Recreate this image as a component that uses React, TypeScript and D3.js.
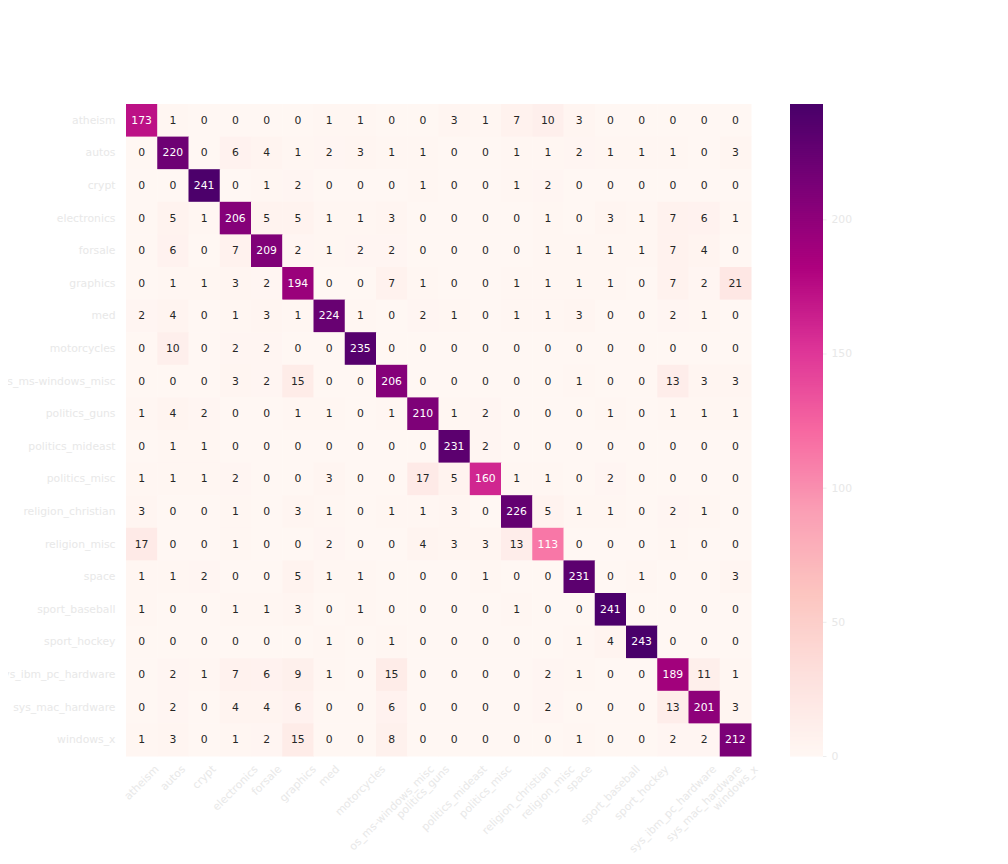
import React, { useEffect, useRef } from 'react';
import * as d3 from 'd3';

const labels = [
  'atheism', 'autos', 'crypt', 'electronics', 'forsale', 'graphics', 'med', 'motorcycles',
  'os_ms-windows_misc', 'politics_guns', 'politics_mideast', 'politics_misc',
  'religion_christian', 'religion_misc', 'space', 'sport_baseball', 'sport_hockey',
  'sys_ibm_pc_hardware', 'sys_mac_hardware', 'windows_x',
];

// rows = true label, columns = predicted label
const matrix: number[][] = [
  [173, 1, 0, 0, 0, 0, 1, 1, 0, 0, 3, 1, 7, 10, 3, 0, 0, 0, 0, 0],
  [0, 220, 0, 6, 4, 1, 2, 3, 1, 1, 0, 0, 1, 1, 2, 1, 1, 1, 0, 3],
  [0, 0, 241, 0, 1, 2, 0, 0, 0, 1, 0, 0, 1, 2, 0, 0, 0, 0, 0, 0],
  [0, 5, 1, 206, 5, 5, 1, 1, 3, 0, 0, 0, 0, 1, 0, 3, 1, 7, 6, 1],
  [0, 6, 0, 7, 209, 2, 1, 2, 2, 0, 0, 0, 0, 1, 1, 1, 1, 7, 4, 0],
  [0, 1, 1, 3, 2, 194, 0, 0, 7, 1, 0, 0, 1, 1, 1, 1, 0, 7, 2, 21],
  [2, 4, 0, 1, 3, 1, 224, 1, 0, 2, 1, 0, 1, 1, 3, 0, 0, 2, 1, 0],
  [0, 10, 0, 2, 2, 0, 0, 235, 0, 0, 0, 0, 0, 0, 0, 0, 0, 0, 0, 0],
  [0, 0, 0, 3, 2, 15, 0, 0, 206, 0, 0, 0, 0, 0, 1, 0, 0, 13, 3, 3],
  [1, 4, 2, 0, 0, 1, 1, 0, 1, 210, 1, 2, 0, 0, 0, 1, 0, 1, 1, 1],
  [0, 1, 1, 0, 0, 0, 0, 0, 0, 0, 231, 2, 0, 0, 0, 0, 0, 0, 0, 0],
  [1, 1, 1, 2, 0, 0, 3, 0, 0, 17, 5, 160, 1, 1, 0, 2, 0, 0, 0, 0],
  [3, 0, 0, 1, 0, 3, 1, 0, 1, 1, 3, 0, 226, 5, 1, 1, 0, 2, 1, 0],
  [17, 0, 0, 1, 0, 0, 2, 0, 0, 4, 3, 3, 13, 113, 0, 0, 0, 1, 0, 0],
  [1, 1, 2, 0, 0, 5, 1, 1, 0, 0, 0, 1, 0, 0, 231, 0, 1, 0, 0, 3],
  [1, 0, 0, 1, 1, 3, 0, 1, 0, 0, 0, 0, 1, 0, 0, 241, 0, 0, 0, 0],
  [0, 0, 0, 0, 0, 0, 1, 0, 1, 0, 0, 0, 0, 0, 1, 4, 243, 0, 0, 0],
  [0, 2, 1, 7, 6, 9, 1, 0, 15, 0, 0, 0, 0, 2, 1, 0, 0, 189, 11, 1],
  [0, 2, 0, 4, 4, 6, 0, 0, 6, 0, 0, 0, 0, 2, 0, 0, 0, 13, 201, 3],
  [1, 3, 0, 1, 2, 15, 0, 0, 8, 0, 0, 0, 0, 0, 1, 0, 0, 2, 2, 212],
];

const colorbarTicks = [0, 50, 100, 150, 200];

// ColorBrewer RdPu, linear like matplotlib
const rdpu = ['#fff7f3', '#fde0dd', '#fcc5c0', '#fa9fb5', '#f768a1', '#dd3497', '#ae017e', '#7a0177', '#49006a'];

const labelColor = '#e8e8e8';
const font = '"DejaVu Sans", sans-serif';
const fs = 10.8;

const App: React.FC = () => {
  const width = 1008;
  const height = 864;
  const heat = { left: 126, right: 751, top: 104, bottom: 756 };
  const bar = { left: 790, right: 823 };
  const svgRef = useRef<SVGSVGElement>(null);

  useEffect(() => {
    const svg = d3.select(svgRef.current);
    svg.selectAll('*').remove();

    const vmax = d3.max(matrix.flat()) ?? 1;
    const color = d3.scaleLinear<string>()
      .domain(rdpu.map((_, i) => (i / (rdpu.length - 1)) * vmax))
      .range(rdpu)
      .interpolate(d3.interpolateRgb);

    const x = d3.scaleBand<string>().domain(labels).range([heat.left, heat.right]);
    const y = d3.scaleBand<string>().domain(labels).range([heat.top, heat.bottom]);

    // same rule seaborn uses to pick the annotation colour
    const lum = (c: string) => {
      const rgb = d3.rgb(c);
      const lin = [rgb.r, rgb.g, rgb.b].map(v => {
        const s = v / 255;
        return s <= 0.03928 ? s / 12.92 : Math.pow((s + 0.055) / 1.055, 2.4);
      });
      return 0.2126 * lin[0] + 0.7152 * lin[1] + 0.0722 * lin[2];
    };

    const cells = matrix.flatMap((row, i) => row.map((v, j) => ({ r: labels[i], c: labels[j], v })));

    const g = svg.append('g');
    g.selectAll('rect.cell')
      .data(cells)
      .enter()
      .append('rect')
      .attr('x', d => x(d.c)!)
      .attr('y', d => y(d.r)!)
      .attr('width', x.bandwidth() + 0.5)
      .attr('height', y.bandwidth() + 0.5)
      .attr('fill', d => color(d.v));

    g.selectAll('text.ann')
      .data(cells)
      .enter()
      .append('text')
      .attr('x', d => x(d.c)! + x.bandwidth() / 2)
      .attr('y', d => y(d.r)! + y.bandwidth() / 2)
      .attr('text-anchor', 'middle')
      .attr('dominant-baseline', 'central')
      .style('font-family', font)
      .style('font-size', `${fs}px`)
      .attr('fill', d => (lum(color(d.v)) > 0.408 ? '#262626' : '#ffffff'))
      .text(d => d.v);

    // y labels
    svg.append('g')
      .selectAll('text')
      .data(labels)
      .enter()
      .append('text')
      .attr('x', heat.left - 10.5)
      .attr('y', d => y(d)! + y.bandwidth() / 2)
      .attr('text-anchor', 'end')
      .attr('dominant-baseline', 'central')
      .style('font-family', font)
      .style('font-size', `${fs}px`)
      .attr('fill', labelColor)
      .text(d => d);

    // x labels, rotated 45 and centred like matplotlib's default rotation mode
    const xl = svg.append('g');
    labels.forEach(lab => {
      const t = xl.append('text')
        .attr('text-anchor', 'middle')
        .attr('dominant-baseline', 'central')
        .style('font-family', font)
        .style('font-size', `${fs}px`)
        .attr('fill', labelColor)
        .text(lab);
      const len = (t.node() as SVGTextElement).getComputedTextLength();
      const half = ((len + fs * 1.15) * Math.SQRT1_2) / 2;
      const cx = x(lab)! + x.bandwidth() / 2;
      const cy = heat.bottom + 7 + half;
      t.attr('transform', `translate(${cx},${cy}) rotate(-45)`);
    });

    // colorbar
    const cy = d3.scaleLinear().domain([0, vmax]).range([heat.bottom, heat.top]);
    const steps = d3.range(0, 326);
    const stepH = (heat.bottom - heat.top) / steps.length;
    svg.append('g')
      .selectAll('rect')
      .data(steps)
      .enter()
      .append('rect')
      .attr('x', bar.left)
      .attr('width', bar.right - bar.left)
      .attr('y', d => heat.bottom - (d + 1) * stepH)
      .attr('height', stepH + 0.6)
      .attr('fill', d => color(((d + 0.5) / steps.length) * vmax));

    const axis = svg.append('g')
      .attr('transform', `translate(${bar.right},0)`)
      .call(d3.axisRight(cy).tickValues(colorbarTicks).tickSize(3.5).tickPadding(5));
    axis.select('.domain').remove();
    axis.selectAll('line').attr('stroke', labelColor).attr('stroke-width', 0.8);
    axis.selectAll('text')
      .attr('fill', labelColor)
      .style('font-family', font)
      .style('font-size', `${fs}px`);
  }, []);

  return (
    <svg ref={svgRef} width={width} height={height} style={{ display: 'block', margin: -8, background: '#fff' }} />
  );
};

export default App;
